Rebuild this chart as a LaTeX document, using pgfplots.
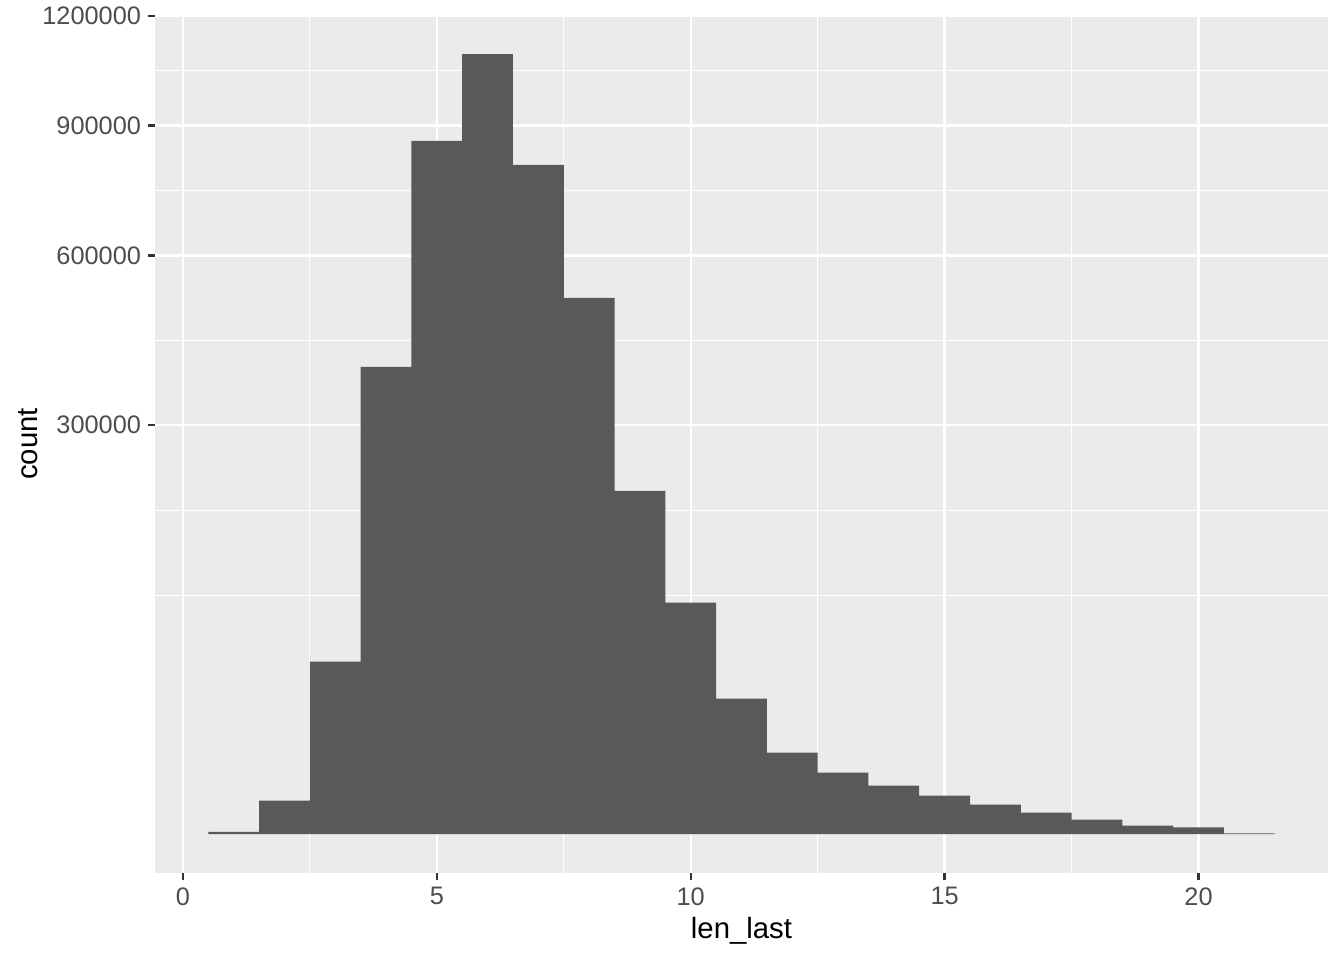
\documentclass[border=0pt]{standalone}
\usepackage{fontspec}
\setmainfont{Liberation Sans}
\usepackage{pgfplots}
\usepackage{pgfplotstable}
\pgfplotsset{compat=1.18}
\definecolor{panelbg}{HTML}{EBEBEB}
\definecolor{barfill}{HTML}{595959}
\definecolor{ticklab}{HTML}{4D4D4D}
\definecolor{tickcol}{HTML}{333333}

\pgfplotstableread{
x count
1 8
2 2010
3 53300
4 391500
5 861400
6 1091100
7 802800
8 515500
9 211300
10 96000
11 32900
12 11900
13 6775
14 4213
15 2655
16 1559
17 828
18 377
19 129
20 76
21 1
}\histdata

\begin{document}
\begin{tikzpicture}
\path[use as bounding box] (-58.125pt,-32.625pt) rectangle (445.875pt,327.375pt);
\begin{axis}[
  scale only axis, width=439.875pt, height=321.75pt,
  at={(0,0)}, anchor=south west,
  xmin=-0.55, xmax=22.55, ymin=-52.23, ymax=1096.83,
  axis background/.style={fill=panelbg},
  axis line style={draw=none},
  xtick={0,5,10,15,20}, xticklabels={0,5,10,15,20},
  minor xtick={2.5,7.5,12.5,17.5},
  ytick={547.72,774.60,948.68,1095.45},
  yticklabels={300000,600000,900000,1200000},
  minor ytick={319.6,433.5,661.2,861.6,1022.1},
  grid=both,
  major grid style={white, line width=0.9pt},
  minor grid style={white, line width=0.45pt},
  tick align=outside, major tick length=2.75pt, minor tick length=0pt,
  major tick style={tickcol, line width=0.9pt},
  minor tick style={draw=none},
  xtick pos=bottom, ytick pos=left,
  ticklabel style={font=\fontsize{9.5}{11}\selectfont, text=ticklab},
  xticklabel style={anchor=north, inner sep=0pt, yshift=-2.5pt},
  yticklabel style={anchor=east, inner sep=0pt, xshift=-2.3pt},
  xlabel={len\_last}, ylabel={count},
  label style={font=\fontsize{11}{13}\selectfont, text=black},
  xlabel style={at={(axis description cs:0.5,-0.0672)}, anchor=center},
  ylabel style={at={(axis description cs:-0.1082,0.5)}, anchor=center},
]
\addplot[ybar, bar width=1, fill=barfill, draw=none]
  table[x=x, y expr={sqrt(\thisrow{count})}] {\histdata};
\end{axis}
\end{tikzpicture}
\end{document}
